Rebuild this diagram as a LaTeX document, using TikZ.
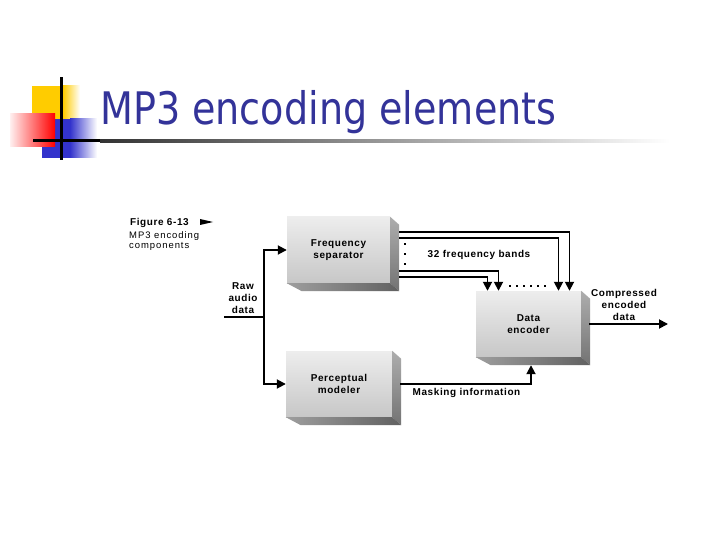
\documentclass[tikz,border=0pt]{standalone}
\usepackage{fontspec}
\setmainfont{Liberation Sans}
\newfontfamily\titlefont{DejaVu Sans}
\usetikzlibrary{arrows.meta,calc}
\definecolor{titleblue}{RGB}{51,51,153}
\definecolor{logoyellow}{RGB}{255,204,0}
\definecolor{logoblue}{RGB}{51,51,204}
\tikzset{
  lbl/.style={font=\fontsize{10}{12}\selectfont\bfseries\addfontfeature{LetterSpace=6}, align=center, inner sep=0pt},
  boxfront/.style={lbl, top color=black!7, bottom color=black!22, minimum width=103bp, minimum height=66bp},
  sideface/.style={top color=black!32, bottom color=black!55},
  bottomface/.style={left color=black!38, right color=black!62},
  conn/.style={line width=1.8bp},
  arr/.style={conn, -{Triangle[length=9bp,width=9bp]}},
}
\begin{document}
\begin{tikzpicture}[x=1bp,y=-1bp]
\useasboundingbox (0,0) rectangle (720,540);
\fill[white] (0,0) rectangle (720,540);
% logo
\fill[logoyellow] (32,86) rectangle (63,119);
\shade[left color=logoyellow, right color=white] (63,86) rectangle (80,119);
\fill[logoblue] (42,119) rectangle (70,158);
\shade[left color=logoblue, right color=white] (70,119) rectangle (97,158);
\shade[left color=red!6, right color=red] (10,114) rectangle (55,147);
\fill[black] (33,139.5) rectangle (100,142.5);
\shade[left color=black!80, right color=white] (100,139.5) rectangle (670,142.5);
\fill[black] (60,77) rectangle (62.5,160);
% title
\node[anchor=base west, inner sep=0, text=titleblue, font=\titlefont\fontsize{45}{54}\selectfont] (title) at (100,125) {\scalebox{0.85}[1]{MP3 encoding elements}};
% caption
\node[anchor=base west, inner sep=0, font=\fontsize{10}{12}\selectfont\bfseries\addfontfeature{LetterSpace=6}] (fig) at (130,225.5) {Figure 6-13};
\fill (200,219) -- (213,222) -- (200,225) -- cycle;
\node[anchor=north west, align=left, inner sep=0, font=\fontsize{9.5}{10.5}\selectfont\addfontfeature{LetterSpace=10}] (cap) at (129,231) {MP3 encoding\\components};
% boxes
\node[boxfront] (fs) at (338.5,250) {Frequency\\separator};
\node[boxfront, minimum width=105bp] (de) at (528.5,324) {Data\\encoder};
\node[boxfront, minimum width=106bp] (pm) at (339,384) {Perceptual\\modeler};
\foreach \b in {fs,de,pm}{
  \shade[sideface] (\b.north east) -- ++(9,8) -- ([shift={(9,8)}]\b.south east) -- (\b.south east) -- cycle;
  \shade[bottomface] (\b.south west) -- (\b.south east) -- ([shift={(9,8)}]\b.south east) -- ([shift={(15,8)}]\b.south west) -- cycle;
}
% input
\coordinate (rawin) at (224,317);
\coordinate (j) at (264,317);
\draw[conn] (rawin) -- (j);
\draw[arr] (j) |- (fs.west);
\draw[arr] (j) |- (pm.west);
% frequency bands
\coordinate (o1) at ($(fs.east)+(9,-18)$);
\coordinate (o2) at ($(fs.east)+(9,-12)$);
\coordinate (o3) at ($(fs.east)+(9,21)$);
\coordinate (o4) at ($(fs.east)+(9,27)$);
\draw[arr] (o1) -| ([xshift=41bp]de.north);
\draw[arr] (o2) -| ([xshift=30bp]de.north);
\draw[arr] (o3) -| ([xshift=-30bp]de.north);
\draw[arr] (o4) -| ([xshift=-41bp]de.north);
\foreach \x in {510,517,524,531,538,545} \fill (\x-1,285) rectangle (\x+1,287);
\foreach \y in {244,254,264} \fill (404,\y-1) rectangle (406,\y+1);
% output
\coordinate (out) at (668,324);
\draw[arr] ([xshift=8bp]de.east) -- (out);
% masking
\draw[arr] ([xshift=8bp]pm.east) -| ([xshift=2.5bp,yshift=-8bp]de.south);
% labels
\node[lbl] (raw) at (243,298) {Raw\\audio\\data};
\node[lbl] (comp) at (624,305) {Compressed\\encoded\\data};
\node[lbl] (bands) at (479,255) {32 frequency bands};
\node[lbl] (mask) at (466.5,393) {Masking information};
\end{tikzpicture}
\end{document}
